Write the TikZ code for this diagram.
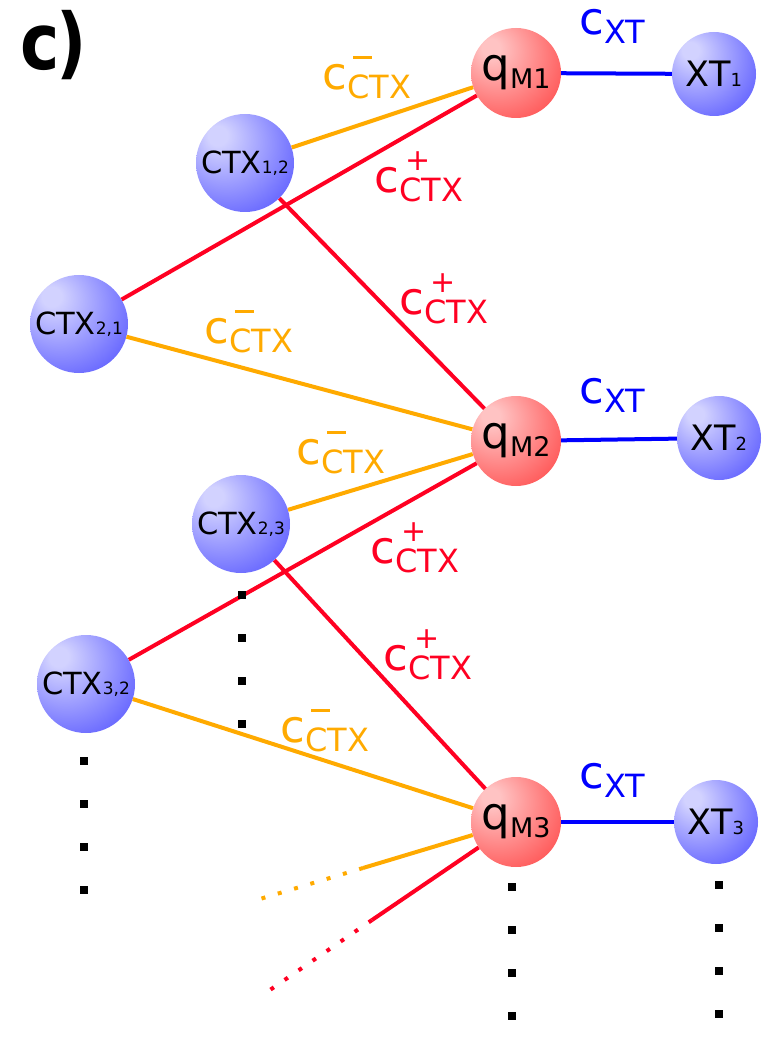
\documentclass[tikz,border=0pt]{standalone}
\usepackage{fontspec}
\setmainfont{DejaVu Sans}
\definecolor{corange}{RGB}{255,170,0}
\definecolor{cred}{RGB}{255,0,34}
\definecolor{cblue}{RGB}{0,0,255}
\definecolor{blueA}{RGB}{210,210,255}
\definecolor{blueB}{RGB}{58,58,255}
\definecolor{redA}{RGB}{255,195,195}
\definecolor{redB}{RGB}{255,45,45}
\pgfdeclareradialshading{blueball}{\pgfpoint{-15bp}{15bp}}{color(0bp)=(blueA); color(5bp)=(blueA); color(50bp)=(blueB); color(72bp)=(blueB)}
\pgfdeclareradialshading{redball}{\pgfpoint{-15bp}{15bp}}{color(0bp)=(redA); color(5bp)=(redA); color(50bp)=(redB); color(72bp)=(redB)}
\newcommand{\labcpm}[3]{{\fontsize{45}{45}\selectfont c}\raisebox{-9pt}{\fontsize{32}{32}\selectfont\rlap{\hspace{#1}\raisebox{#2}{#3}}CTX}}
\newcommand{\labplus}{\labcpm{6pt}{31pt}{\fontsize{30}{30}\selectfont +}}
\newcommand{\labminus}{\labcpm{5.8pt}{39.5pt}{\rule{19pt}{3pt}}}
\newcommand{\labxt}{{\fontsize{45}{45}\selectfont c}\raisebox{-9pt}{\fontsize{32}{32}\selectfont XT}}
\newcommand{\qlab}[1]{q\raisebox{-8pt}{\fontsize{27}{27}\selectfont M#1}}
\newcommand{\ctxlab}[1]{CTX{\fontsize{17}{17}\selectfont #1}}
\newcommand{\xtlab}[1]{XT{\fontsize{18}{18}\selectfont #1}}
\begin{document}
\begin{tikzpicture}[x=1pt,y=-1pt,
  ctxnode/.style={circle,inner sep=0pt,minimum size=98pt,shading=blueball,font=\fontsize{30.5}{30.5}\selectfont},
  xtnode/.style={circle,inner sep=0pt,minimum size=84pt,shading=blueball,font=\fontsize{35}{35}\selectfont},
  qnode/.style={circle,inner sep=0pt,minimum size=90pt,shading=redball,font=\fontsize{45}{45}\selectfont},
  lab/.style={anchor=base west,inner sep=0pt},
  edgeo/.style={draw=corange,line width=4pt},
  edger/.style={draw=cred,line width=4pt},
  edgeb/.style={draw=cblue,line width=4pt},
  dotted edge/.style={dash pattern=on 4pt off 13pt}
]
\useasboundingbox (0,0) rectangle (770,1056);

% title
\node[lab,font=\fontsize{78}{78}\selectfont\bfseries] (title) at (20,70) {\scalebox{0.85}[1]{c\kern-4pt)}};

% nodes
\node[qnode] (q1) at (516,73) {\qlab{1}};
\node[qnode] (q2) at (516,441) {\qlab{2}};
\node[qnode] (q3) at (516,822) {\qlab{3}};
\node[xtnode] (x1) at (714,74) {\xtlab{1}};
\node[xtnode] (x2) at (719,438) {\xtlab{2}};
\node[xtnode] (x3) at (716,822) {\xtlab{3}};
\node[ctxnode] (c12) at (245,163) {\ctxlab{1,2}};
\node[ctxnode] (c21) at (79,324) {\ctxlab{2,1}};
\node[ctxnode] (c23) at (241,524) {\ctxlab{2,3}};
\node[ctxnode] (c32) at (86,684) {\ctxlab{3,2}};

% edges
\draw[edgeb] (q1) -- (x1);
\draw[edgeb] (q2) -- (x2);
\draw[edgeb] (q3) -- (x3);
\draw[edgeo] (c12) -- (q1);
\draw[edger] (c21) -- (q1);
\draw[edger] (c12) -- (q2);
\draw[edgeo] (c21) -- (q2);
\draw[edgeo] (c23) -- (q2);
\draw[edger] (c32) -- (q2);
\draw[edger] (c23) -- (q3);
\draw[edgeo] (c32) -- (q3);

% edges fading out
\coordinate (o1) at (363,868);
\coordinate (o2) at (250,902);
\coordinate (r1) at (372,920);
\coordinate (r2) at (267,992);
\draw[edgeo] (q3) -- (o1);
\draw[edgeo,dotted edge] (o1) -- (o2);
\draw[edger] (q3) -- (r1);
\draw[edger,dotted edge] (r1) -- (r2);

% labels
\node[lab,text=corange] (l1) at (322.5,90) {\labminus};
\node[lab,text=cred] (l2) at (374.5,193) {\labplus};
\node[lab,text=cred] (l3) at (399.5,314) {\labplus};
\node[lab,text=corange] (l4) at (204.5,343) {\labminus};
\node[lab,text=corange] (l5) at (296.5,464) {\labminus};
\node[lab,text=cred] (l6) at (370.5,563) {\labplus};
\node[lab,text=cred] (l7) at (383.5,670) {\labplus};
\node[lab,text=corange] (l8) at (280.5,742) {\labminus};
\node[lab,text=cblue] (lx1) at (579.5,35) {\labxt};
\node[lab,text=cblue] (lx2) at (579.5,403) {\labxt};
\node[lab,text=cblue] (lx3) at (579.5,788) {\labxt};

% vertical ellipses
\foreach \xx/\ya in {242/595,84/761,512/887,719/885}{
  \foreach \k in {0,1,2,3}{
    \fill (\xx-4.25,\ya+43*\k-4.25) rectangle ++(8.5,8.5);
  }
}
\end{tikzpicture}
\end{document}
